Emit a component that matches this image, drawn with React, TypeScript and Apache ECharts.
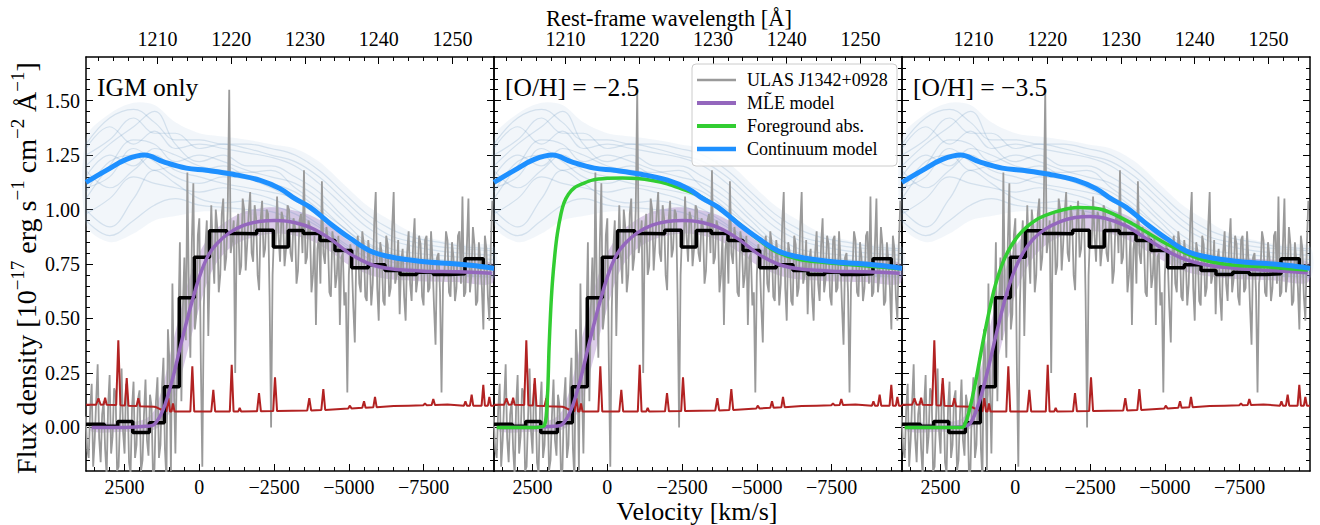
import React, { useEffect, useRef } from 'react';
import * as echarts from 'echarts';

const FONT = 'Liberation Serif';

// ---- axis extents / ticks ----
const V_LEFT = 3790;
const V_RIGHT = -9855;
const WL_LEFT = 1200.3;
const WL_RIGHT = 1255.63;
const Y_MIN = -0.2;
const Y_MAX = 1.7;

const VEL_MAJOR = [2500, 0, -2500, -5000, -7500];
const VEL_MINOR = [3500, 3000, 2000, 1500, 1000, 500, -500, -1000, -1500, -2000, -3000, -3500, -4000, -4500, -5500, -6000, -6500, -7000, -8000, -8500, -9000, -9500];
const WL_MAJOR = [1210, 1220, 1230, 1240, 1250];
const WL_MINOR = [1202, 1204, 1206, 1208, 1212, 1214, 1216, 1218, 1222, 1224, 1226, 1228, 1232, 1234, 1236, 1238, 1242, 1244, 1246, 1248, 1252, 1254];
const Y_MAJOR = [0, 0.25, 0.5, 0.75, 1.0, 1.25, 1.5];
const Y_MINOR = [-0.15, -0.1, -0.05, 0.05, 0.1, 0.15, 0.2, 0.3, 0.35, 0.4, 0.45, 0.55, 0.6, 0.65, 0.7, 0.8, 0.85, 0.9, 0.95, 1.05, 1.1, 1.15, 1.2, 1.3, 1.35, 1.4, 1.45, 1.55, 1.6, 1.65];

const PANEL_LABELS = ['IGM only', '[O/H] = \u22122.5', '[O/H] = \u22123.5'];

// ---- observed spectrum (grey): [velocity km/s, flux] ----
const SPEC: number[][] = [
  [3800, 0.05], [3750, -0.1], [3700, -0.14], [3650, 0.08], [3600, 0.2], [3550, -0.18], [3500, -0.06], [3450, 0.12], [3400, 0.29], [3350, -0.05],
  [3300, -0.16], [3250, 0.06], [3200, 0.12], [3150, -0.1], [3100, -0.22], [3050, 0.1], [3000, 0.24], [2950, -0.12], [2900, -0.04], [2850, 0.18],
  [2800, 0.16], [2750, -0.2], [2700, -0.18], [2650, 0.05], [2600, 0.27], [2550, -0.02], [2500, -0.12], [2450, 0.2], [2400, 0.14], [2350, -0.16],
  [2300, -0.21], [2250, 0.09], [2200, 0.21], [2150, -0.14], [2100, -0.08], [2050, 0.13], [2000, 0.17], [1950, -0.2], [1900, -0.15], [1850, 0.06],
  [1800, 0.22], [1750, -0.06], [1700, -0.13], [1650, 0.15], [1600, 0.1], [1550, -0.22], [1500, -0.19], [1450, 0.12], [1400, 0.23], [1350, -0.14],
  [1300, -0.08], [1250, 0.18], [1200, 0.32], [1150, -0.1], [1100, -0.24], [1050, 0.45], [1000, 0.3], [950, -0.2], [900, 0.66], [850, 0.2],
  [800, -0.12], [750, 0.3], [700, 0.48], [650, 0.85], [600, 0.12], [550, 0.55], [500, 0.78], [450, 0.4], [400, 1.17], [350, 0.62],
  [300, 0.32], [250, 0.85], [200, 1.12], [150, 0.45], [100, 0.52], [50, 0.88], [0, 0.96], [-50, 0.3], [-100, -0.18], [-150, 0.55],
  [-200, 0.82], [-250, 0.95], [-300, 0.42], [-350, 0.75], [-400, 1.02], [-450, 0.8], [-500, 0.66], [-550, 1.0], [-600, 0.92], [-650, 0.62],
  [-700, 0.7], [-750, 0.98], [-800, 1.05], [-850, 0.72], [-900, 0.78], [-950, 1.0], [-1000, 1.55], [-1050, 0.8], [-1100, 0.86], [-1150, 0.95],
  [-1200, 0.25], [-1250, 0.9], [-1300, 0.98], [-1350, 0.7], [-1400, 0.74], [-1450, 1.05], [-1500, 1.0], [-1550, 0.72], [-1600, 0.84], [-1650, 0.98],
  [-1700, 1.08], [-1750, 0.8], [-1800, 0.76], [-1850, 1.02], [-1900, 0.96], [-1950, 0.7], [-2000, 0.63], [-2050, 0.95], [-2100, 1.04], [-2150, 0.78],
  [-2200, 0.82], [-2250, 1.0], [-2300, 0.98], [-2350, 0.6], [-2400, 0.0], [-2450, 0.7], [-2500, 0.9], [-2550, 0.82], [-2600, 1.06], [-2650, 0.88],
  [-2700, 0.76], [-2750, 0.99], [-2800, 0.96], [-2850, 0.74], [-2900, 0.82], [-2950, 1.02], [-3000, 1.0], [-3050, 0.8], [-3100, 0.76], [-3150, 0.96],
  [-3200, 0.92], [-3250, 0.66], [-3300, 0.72], [-3350, 0.95], [-3400, 0.98], [-3450, 0.8], [-3500, 1.18], [-3550, 0.75], [-3600, 0.78], [-3650, 0.95],
  [-3700, 0.92], [-3750, 0.62], [-3800, 0.7], [-3850, 0.88], [-3900, 0.47], [-3950, 0.82], [-4000, 0.88], [-4050, 0.66], [-4100, 1.13], [-4150, 0.8],
  [-4200, 0.75], [-4250, 0.92], [-4300, 0.86], [-4350, 0.62], [-4400, 0.6], [-4450, 0.9], [-4500, 0.84], [-4550, 0.64], [-4600, 0.7], [-4650, 0.88],
  [-4700, 0.47], [-4750, 0.78], [-4800, 0.8], [-4850, 0.56], [-4900, 0.62], [-4950, 0.16], [-5000, 0.7], [-5050, 0.84], [-5100, 0.76], [-5150, 0.55],
  [-5200, 0.39], [-5250, 0.8], [-5300, 0.88], [-5350, 0.66], [-5400, 0.62], [-5450, 0.9], [-5500, 0.84], [-5550, 0.6], [-5600, 0.58], [-5650, 0.86],
  [-5700, 0.78], [-5750, 0.56], [-5800, 0.66], [-5850, 0.94], [-5900, 1.08], [-5950, 0.64], [-6000, 0.49], [-6050, 0.85], [-6100, 0.8], [-6150, 0.58],
  [-6200, 0.56], [-6250, 0.88], [-6300, 0.84], [-6350, 0.6], [-6400, 0.64], [-6450, 0.92], [-6500, 1.08], [-6550, 0.66], [-6600, 0.7], [-6650, 0.86],
  [-6700, 0.52], [-6750, 0.76], [-6800, 0.82], [-6850, 0.6], [-6900, 0.49], [-6950, 0.8], [-7000, 0.9], [-7050, 0.66], [-7100, 0.58], [-7150, 0.84],
  [-7200, 0.96], [-7250, 0.62], [-7300, 0.68], [-7350, 0.88], [-7400, 0.84], [-7450, 0.6], [-7500, 0.56], [-7550, 0.86], [-7600, 0.88], [-7650, 0.62],
  [-7700, 0.64], [-7750, 0.9], [-7800, 0.76], [-7850, 0.55], [-7900, 0.38], [-7950, 0.78], [-8000, 0.8], [-8050, 0.62], [-8100, 0.16], [-8150, 0.66],
  [-8200, 0.72], [-8250, 0.9], [-8300, 0.86], [-8350, 0.62], [-8400, 0.6], [-8450, 0.85], [-8500, 0.78], [-8550, 0.58], [-8600, 0.64], [-8650, 0.88],
  [-8700, 0.9], [-8750, 0.66], [-8800, 1.06], [-8850, 0.6], [-8900, 0.62], [-8950, 0.84], [-9000, 1.05], [-9050, 0.62], [-9100, 0.7], [-9150, 0.92],
  [-9200, 0.84], [-9250, 0.56], [-9300, 0.58], [-9350, 0.85], [-9400, 0.76], [-9450, 0.64], [-9500, 0.45], [-9550, 0.88], [-9600, 0.82], [-9650, 0.6],
  [-9700, 0.49], [-9750, 0.84], [-9800, 1.04],
];

// ---- error spectrum (red) ----
const ERR_V = [3790, 3450, 3374, 3300, 3200, 3150, 3100, 2780, 2709, 2640, 2490, 2428, 2370, 2100, 2040, 1980, 1500, 1400, 1250, 1100, 1037, 980, 930, 880, 830, 300, 234, 170, -400, -468, -530, -1020, -1083, -1145, -1300, -1350, -1400, -1930, -1996, -2060, -2470, -2531, -2600, -3610, -3678, -3740, -4080, -4147, -4210, -4980, -5036, -5090, -5450, -5508, -5560, -5820, -5875, -5930, -6500, -7000, -7490, -7547, -7600, -7770, -7825, -7880, -8300, -8850, -8900, -8950, -9050, -9108, -9160, -9440, -9497, -9550, -9650, -9700, -9750, -9855];
const ERR_F = [0.104, 0.104, 0.134, 0.104, 0.105, 0.136, 0.104, 0.103, 0.4, 0.102, 0.101, 0.226, 0.1, 0.098, 0.134, 0.097, 0.095, 0.09, 0.08, 0.074, 0.134, 0.073, 0.073, 0.11, 0.073, 0.073, 0.28, 0.073, 0.073, 0.172, 0.073, 0.073, 0.287, 0.073, 0.073, 0.09, 0.073, 0.074, 0.157, 0.074, 0.075, 0.23, 0.075, 0.078, 0.134, 0.078, 0.08, 0.176, 0.08, 0.087, 0.1, 0.087, 0.09, 0.12, 0.09, 0.093, 0.14, 0.093, 0.098, 0.1, 0.102, 0.11, 0.102, 0.103, 0.13, 0.103, 0.105, 0.1, 0.12, 0.1, 0.1, 0.15, 0.1, 0.1, 0.195, 0.1, 0.1, 0.14, 0.1, 0.1];

// ---- binned spectrum (black step): left bin edges and bin values ----
const BIN_V = [3790, 3177, 2729, 2227, 1672, 1170, 669, 167, -341, -916, -1418, -1919, -2475, -2976, -3478, -4036, -4538, -5096, -5651, -6210, -6711, -7270, -7825, -8383, -8884, -9497, -9855];
const BIN_F = [0.015, 0.005, 0.027, -0.023, 0.022, 0.187, 0.595, 0.781, 0.903, 0.89, 0.889, 0.905, 0.828, 0.904, 0.89, 0.858, 0.812, 0.733, 0.746, 0.72, 0.702, 0.712, 0.702, 0.705, 0.774, 0.735, 0.735];

// ---- continuum model (blue) ----
const CONT_V = [3790, 3110, 2440, 1830, 1215, 434, -234, -1125, -2015, -2700, -3200, -3710, -4380, -5045, -5715, -6380, -7050, -7720, -8390, -9060, -9855];
const CONT_F = [1.125, 1.18, 1.23, 1.25, 1.22, 1.19, 1.18, 1.162, 1.135, 1.096, 1.05, 1.01, 0.935, 0.868, 0.81, 0.783, 0.768, 0.758, 0.752, 0.744, 0.73];

// ---- continuum draws (faint blue) ----
const DRAW_V = [3790, 3000, 2200, 1500, 800, 0, -800, -1600, -2400, -3200, -4000, -4800, -5600, -6400, -7200, -8000, -8800, -9855];
const DRAW_HI = [1.33, 1.44, 1.49, 1.48, 1.4, 1.35, 1.335, 1.32, 1.3, 1.28, 1.22, 1.12, 1.02, 0.95, 0.89, 0.86, 0.84, 0.83];
const DRAW_LO = [0.93, 0.85, 0.89, 0.95, 0.97, 0.99, 0.99, 0.98, 0.96, 0.93, 0.87, 0.8, 0.74, 0.71, 0.7, 0.695, 0.69, 0.685];
const DRAWS = [
  [1.05, 1.2, 1.32, 1.3, 1.22, 1.25, 1.22, 1.18, 1.15, 1.12, 1.05, 0.95, 0.85, 0.8, 0.78, 0.77, 0.76, 0.74],
  [1.2, 1.3, 1.38, 1.45, 1.3, 1.22, 1.25, 1.2, 1.2, 1.15, 1.08, 0.97, 0.88, 0.82, 0.8, 0.79, 0.78, 0.77],
  [0.98, 1.05, 1.15, 1.12, 1.1, 1.08, 1.1, 1.08, 1.05, 1.0, 0.93, 0.85, 0.78, 0.74, 0.73, 0.72, 0.72, 0.71],
  [1.28, 1.38, 1.3, 1.36, 1.28, 1.3, 1.28, 1.26, 1.24, 1.2, 1.12, 1.02, 0.92, 0.86, 0.83, 0.81, 0.8, 0.79],
  [1.1, 1.15, 1.28, 1.22, 1.15, 1.12, 1.15, 1.14, 1.1, 1.04, 0.97, 0.88, 0.8, 0.76, 0.75, 0.75, 0.74, 0.72],
  [1.15, 1.25, 1.2, 1.28, 1.25, 1.2, 1.18, 1.17, 1.18, 1.1, 1.02, 0.92, 0.84, 0.79, 0.77, 0.76, 0.75, 0.74],
  [1.0, 0.92, 1.05, 1.18, 1.12, 1.05, 1.03, 1.04, 1.02, 0.98, 0.92, 0.84, 0.76, 0.73, 0.71, 0.71, 0.7, 0.7],
  [1.25, 1.32, 1.42, 1.35, 1.35, 1.28, 1.3, 1.28, 1.25, 1.22, 1.15, 1.05, 0.95, 0.88, 0.85, 0.83, 0.82, 0.81],
  [1.08, 1.22, 1.25, 1.18, 1.2, 1.18, 1.2, 1.15, 1.12, 1.08, 1.0, 0.92, 0.83, 0.78, 0.76, 0.75, 0.74, 0.73],
  [1.18, 1.1, 1.18, 1.25, 1.18, 1.15, 1.12, 1.1, 1.08, 1.05, 0.98, 0.89, 0.81, 0.77, 0.76, 0.75, 0.75, 0.74],
  [1.3, 1.42, 1.46, 1.4, 1.32, 1.32, 1.3, 1.3, 1.28, 1.25, 1.18, 1.08, 0.98, 0.91, 0.87, 0.85, 0.83, 0.82],
  [0.95, 0.88, 0.95, 1.02, 1.05, 1.02, 1.01, 1.0, 0.99, 0.95, 0.9, 0.82, 0.75, 0.72, 0.705, 0.7, 0.695, 0.69],
];

// ---- MLE models (purple) ----
const MLE_V = [3600, 2500, 1800, 1500, 1200, 900, 600, 300, 0, -300, -600, -1000, -1500, -2000, -2500, -3000, -3700, -4400, -5000, -5700, -6400, -7500, -8600, -9780];
const MLE_A = [0.0, 0.0, 0.005, 0.015, 0.085, 0.22, 0.39, 0.55, 0.69, 0.79, 0.845, 0.893, 0.928, 0.945, 0.95, 0.945, 0.918, 0.863, 0.8, 0.75, 0.728, 0.717, 0.714, 0.708];
const MLE_A_HI = [0.02, 0.02, 0.04, 0.08, 0.2, 0.38, 0.55, 0.7, 0.8, 0.87, 0.915, 0.955, 0.99, 1.005, 1.01, 1.0, 0.975, 0.92, 0.855, 0.8, 0.775, 0.765, 0.762, 0.755];
const MLE_A_LO = [-0.02, -0.02, -0.02, -0.01, 0.02, 0.1, 0.24, 0.4, 0.55, 0.68, 0.76, 0.82, 0.86, 0.88, 0.89, 0.885, 0.86, 0.805, 0.745, 0.7, 0.68, 0.67, 0.667, 0.66];
const MLE_C = [0.0, 0.0, 0.003, 0.02, 0.12, 0.275, 0.45, 0.61, 0.73, 0.81, 0.865, 0.91, 0.945, 0.963, 0.968, 0.96, 0.925, 0.865, 0.815, 0.77, 0.745, 0.728, 0.72, 0.71];
const MLE_C_HI = [0.02, 0.02, 0.04, 0.09, 0.24, 0.43, 0.6, 0.74, 0.83, 0.885, 0.93, 0.965, 0.995, 1.01, 1.015, 1.005, 0.975, 0.915, 0.865, 0.82, 0.79, 0.775, 0.77, 0.76];
const MLE_C_LO = [-0.02, -0.02, -0.02, -0.005, 0.04, 0.14, 0.3, 0.47, 0.61, 0.71, 0.78, 0.835, 0.875, 0.895, 0.9, 0.895, 0.865, 0.81, 0.76, 0.715, 0.695, 0.68, 0.675, 0.665];

// ---- foreground absorption (green) ----
const FG2_V = [3700, 2400, 2100, 2000, 1950, 1900, 1840, 1750, 1670, 1550, 1450, 1300, 1100, 800, 500, 0, -500, -1000, -1500, -2000, -2500, -3000, -3500, -4000, -4800, -5600, -6400, -7200, -8000, -8800, -9780];
const FG2_F = [0.0, 0.0, 0.01, 0.15, 0.36, 0.52, 0.66, 0.8, 0.89, 0.98, 1.03, 1.07, 1.1, 1.12, 1.135, 1.143, 1.145, 1.142, 1.133, 1.118, 1.094, 1.068, 1.028, 0.98, 0.89, 0.81, 0.772, 0.758, 0.748, 0.74, 0.728];
const FG3_V = [3700, 1800, 1700, 1559, 1337, 1114, 890, 669, 334, -113, -669, -1338, -2120, -2900, -3913, -5030, -6143, -7257, -8373, -9780];
const FG3_F = [0.0, 0.0, 0.01, 0.066, 0.203, 0.37, 0.523, 0.653, 0.783, 0.882, 0.95, 0.989, 1.009, 1.0, 0.935, 0.844, 0.775, 0.745, 0.737, 0.722];

// ---- layout ----
const GRID_LEFT = [86, 494, 902];
const GRID_TOP = 57;
const GRID_W = 408;
const GRID_H = 414;

const C_GREY = '#9a9a9a';
const C_RED = '#b22222';
const C_PURPLE = '#9467bd';
const C_GREEN = '#32cd32';
const C_BLUE = '#1e90ff';

const pairs = (xs: number[], ys: number[]) => xs.map((x, i) => [x, ys[i]]);
const fmtVel = (v: number) => (v < 0 ? '\u2212' + Math.abs(v) : String(v));

function xAxes(g: number) {
  const common = { gridIndex: g, type: 'value', splitLine: { show: false } };
  const lab = { color: '#000', fontFamily: FONT, fontSize: 20 };
  return [
    {
      ...common, min: V_RIGHT, max: V_LEFT, inverse: true, position: 'bottom',
      axisLine: { show: true, onZero: false, lineStyle: { color: '#000', width: 1.5 } },
      axisTick: { show: true, inside: true, length: 7, lineStyle: { color: '#000', width: 1 }, customValues: VEL_MAJOR },
      axisLabel: { show: true, ...lab, margin: 6, customValues: VEL_MAJOR, formatter: fmtVel },
    },
    {
      ...common, min: V_RIGHT, max: V_LEFT, inverse: true, position: 'bottom',
      axisLine: { show: false, onZero: false },
      axisTick: { show: true, inside: true, length: 4, lineStyle: { color: '#000', width: 1 }, customValues: VEL_MINOR },
      axisLabel: { show: false },
    },
    {
      ...common, min: WL_LEFT, max: WL_RIGHT, position: 'top',
      axisLine: { show: true, onZero: false, lineStyle: { color: '#000', width: 1.5 } },
      axisTick: { show: true, inside: true, length: 7, lineStyle: { color: '#000', width: 1 }, customValues: WL_MAJOR },
      axisLabel: { show: true, ...lab, margin: 8, customValues: WL_MAJOR, formatter: (v: number) => String(v) },
    },
    {
      ...common, min: WL_LEFT, max: WL_RIGHT, position: 'top',
      axisLine: { show: false, onZero: false },
      axisTick: { show: true, inside: true, length: 4, lineStyle: { color: '#000', width: 1 }, customValues: WL_MINOR },
      axisLabel: { show: false },
    },
  ];
}

function yAxes(g: number) {
  const common = { gridIndex: g, type: 'value', min: Y_MIN, max: Y_MAX, splitLine: { show: false } };
  const mk = (pos: string, major: boolean, labels: boolean) => ({
    ...common, position: pos,
    axisLine: { show: major, onZero: false, lineStyle: { color: '#000', width: 1.5 } },
    axisTick: { show: true, inside: true, length: major ? 7 : 4, lineStyle: { color: '#000', width: 1 }, customValues: major ? Y_MAJOR : Y_MINOR },
    axisLabel: labels
      ? { show: true, color: '#000', fontFamily: FONT, fontSize: 20, margin: 6, customValues: Y_MAJOR, formatter: (v: number) => v.toFixed(2) }
      : { show: false },
  });
  return [mk('left', true, g === 0), mk('left', false, false), mk('right', true, false), mk('right', false, false)];
}

// shaded band between two curves, drawn through the axis scales
function bandSeries(p: number, xs: number[], lo: number[], hi: number[], fill: string, smooth: number) {
  return {
    type: 'custom', xAxisIndex: p * 4, yAxisIndex: p * 4, silent: true,
    data: [[xs[0], lo[0]]],
    renderItem: (_params: any, api: any) => {
      const pts: number[][] = [];
      for (let i = 0; i < xs.length; i++) pts.push(api.coord([xs[i], hi[i]]));
      for (let i = xs.length - 1; i >= 0; i--) pts.push(api.coord([xs[i], lo[i]]));
      return { type: 'polygon', shape: { points: pts, smooth }, style: { fill } };
    },
  };
}

function panelSeries(p: number) {
  const base = { xAxisIndex: p * 4, yAxisIndex: p * 4, type: 'line', symbol: 'none', silent: true };
  const out: any[] = [];
  out.push(bandSeries(p, DRAW_V, DRAW_LO, DRAW_HI, 'rgba(180,204,226,0.17)', 0.3));
  DRAWS.forEach((d) => {
    out.push({ ...base, data: pairs(DRAW_V, d), smooth: 0.4, lineStyle: { color: 'rgba(70,130,180,0.18)', width: 1.2 } });
  });
  out.push({ ...base, data: SPEC, lineStyle: { color: C_GREY, width: 1.8 } });
  out.push({ ...base, data: pairs(ERR_V, ERR_F), lineStyle: { color: C_RED, width: 2 } });
  out.push({ ...base, data: pairs(BIN_V, BIN_F), step: 'end', lineStyle: { color: '#000', width: 3.5 } });
  const m = p === 2 ? MLE_C : MLE_A;
  const hi = p === 2 ? MLE_C_HI : MLE_A_HI;
  const lo = p === 2 ? MLE_C_LO : MLE_A_LO;
  out.push(bandSeries(p, MLE_V, lo, hi, 'rgba(148,103,189,0.33)', 0.3));
  out.push({ ...base, data: pairs(MLE_V, m), smooth: 0.3, lineStyle: { color: C_PURPLE, width: 3.5 } });
  if (p === 1) out.push({ ...base, data: pairs(FG2_V, FG2_F), smooth: 0.3, lineStyle: { color: C_GREEN, width: 3.5 } });
  if (p === 2) out.push({ ...base, data: pairs(FG3_V, FG3_F), smooth: 0.3, lineStyle: { color: C_GREEN, width: 3.5 } });
  out.push({ ...base, data: pairs(CONT_V, CONT_F), smooth: 0.4, lineStyle: { color: C_BLUE, width: 5 } });
  return out;
}

function legendGraphic() {
  const x0 = 692, y0 = 64;
  const items = [
    { name: 'ULAS J1342+0928', color: C_GREY, w: 2.5 },
    { name: 'ML\u0303E model', color: C_PURPLE, w: 4 },
    { name: 'Foreground abs.', color: C_GREEN, w: 4 },
    { name: 'Continuum model', color: C_BLUE, w: 4.5 },
  ];
  const els: any[] = [
    { type: 'rect', z: 100, shape: { x: x0, y: y0, width: 205, height: 102, r: 4 }, style: { fill: 'rgba(255,255,255,0.85)', stroke: '#cccccc', lineWidth: 1 } },
  ];
  items.forEach((it, i) => {
    const y = 80 + i * 23;
    els.push({ type: 'line', z: 101, shape: { x1: 697, y1: y, x2: 736, y2: y }, style: { stroke: it.color, lineWidth: it.w } });
    els.push({ type: 'text', z: 101, x: 747, y, style: { text: it.name, fontFamily: FONT, fontSize: 18, fill: '#000', align: 'left', verticalAlign: 'middle' } });
  });
  return els;
}

function buildOption() {
  const grid = GRID_LEFT.map((l) => ({ left: l, top: GRID_TOP, width: GRID_W, height: GRID_H, containLabel: false }));
  const xAxis: any[] = [];
  const yAxis: any[] = [];
  const series: any[] = [];
  for (let p = 0; p < 3; p++) {
    xAxis.push(...xAxes(p));
    yAxis.push(...yAxes(p));
    series.push(...panelSeries(p));
  }
  const graphic: any[] = [
    ...PANEL_LABELS.map((t, i) => ({
      type: 'text', z: 100, x: GRID_LEFT[i] + 11, y: 87,
      style: { text: t, fontFamily: FONT, fontSize: 25.5, fill: '#000', align: 'left', verticalAlign: 'middle' },
    })),
    { type: 'text', z: 100, x: 697, y: 511, style: { text: 'Velocity [km/s]', fontFamily: FONT, fontSize: 26, fill: '#000', align: 'center', verticalAlign: 'middle' } },
    { type: 'text', z: 100, x: 669, y: 18, style: { text: 'Rest-frame wavelength [\u00c5]', fontFamily: FONT, fontSize: 22.5, fill: '#000', align: 'center', verticalAlign: 'middle' } },
    {
      type: 'text', z: 100, x: 26, y: 268, rotation: Math.PI / 2,
      style: {
        text: 'Flux density [10{sup|\u221217} erg s{sup|\u22121} cm{sup|\u22122} \u00c5{sup|\u22121}]',
        fontFamily: FONT, fontSize: 28, lineHeight: 36, fill: '#000', align: 'center', verticalAlign: 'middle',
        rich: { sup: { fontFamily: FONT, fontSize: 19, lineHeight: 21, verticalAlign: 'top', fill: '#000' } },
      },
    },
    ...legendGraphic(),
  ];
  return { animation: false, backgroundColor: '#ffffff', grid, xAxis, yAxis, series, graphic };
}

const App = () => {
  const ref = useRef<HTMLDivElement>(null);
  useEffect(() => {
    const chart = echarts.init(ref.current as HTMLDivElement, null, { renderer: 'svg' });
    chart.setOption(buildOption() as any);
    return () => chart.dispose();
  }, []);
  return <div ref={ref} style={{ position: 'fixed', left: 0, top: 0, width: 1320, height: 525, background: '#fff' }} />;
};

export default App;
